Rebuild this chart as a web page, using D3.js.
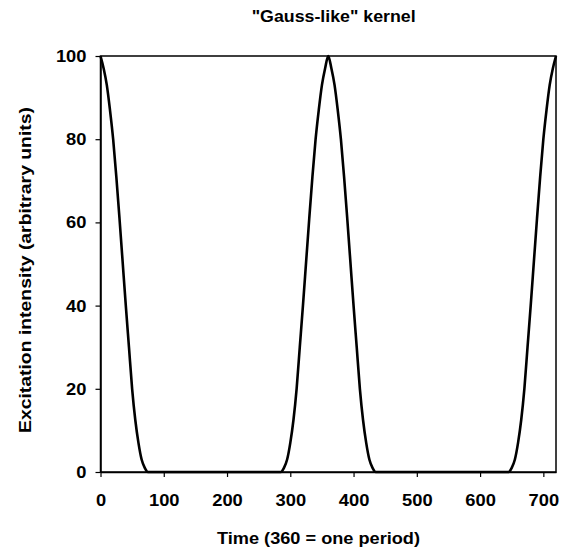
<!DOCTYPE html>
<html>
<head>
<meta charset="utf-8">
<script src="https://cdn.jsdelivr.net/npm/d3@7"></script>
<style>
  html, body { margin: 0; padding: 0; background: #fff; }
  svg { display: block; }
  text { font-family: "Liberation Sans", Arial, Helvetica, sans-serif; font-weight: bold; fill: #000; }
</style>
</head>
<body>
<svg id="chart" width="569" height="552"></svg>
<script>
const title = '"Gauss-like" kernel';
const xTitle = "Time (360 = one period)";
const yTitle = "Excitation intensity (arbitrary units)";
const xTicks = [0, 100, 200, 300, 400, 500, 600, 700];
const yTicks = [0, 20, 40, 60, 80, 100];

const time = [0,5,10,15,20,25,30,35,40,45,50,55,60,65,70,75,
  285,290,295,300,305,310,315,320,325,330,335,340,345,350,355,360,
  365,370,375,380,385,390,395,400,405,410,415,420,425,430,435,
  645,650,655,660,665,670,675,680,685,690,695,700,705,710,715,720];
const intensity = [100,97,93,87,80,71,61,50.5,40,30,20,12.5,7,3,1,0,
  0,1,3,7,12.5,20,30,40,50.5,61,71,80,87,93,97,100,
  97,93,87,80,71,61,50.5,40,30,20,12.5,7,3,1,0,
  0,1,3,7,12.5,20,30,40,50.5,61,71,80,87,93,97,100];

const svg = d3.select("#chart");
const x = d3.scaleLinear().domain([0, 720]).range([100.5, 556]);
const y = d3.scaleLinear().domain([0, 100]).range([472, 56]);

// frame
svg.append("rect")
  .attr("x", x(0)).attr("y", y(100))
  .attr("width", x(720) - x(0)).attr("height", y(0) - y(100))
  .attr("fill", "none").attr("stroke", "#000").attr("stroke-width", 1.5);

// x axis
const xAxis = svg.append("g")
  .attr("transform", `translate(0,${y(0)})`)
  .call(d3.axisBottom(x).tickValues(xTicks).tickSize(5).tickPadding(16).tickSizeOuter(0));
xAxis.select(".domain").attr("stroke-width", 1.5);
xAxis.selectAll(".tick line").attr("stroke-width", 1.2);
xAxis.selectAll(".tick text")
  .style("font-size", "17px").style("font-family", "'Liberation Sans', Arial, sans-serif")
  .style("font-weight", "bold").attr("dy", "0.71em").attr("y", 22)
  .attr("textLength", d => String(d).length * 10.2).attr("lengthAdjust", "spacingAndGlyphs");

// y axis
const yAxis = svg.append("g")
  .attr("transform", `translate(${x(0)},0)`)
  .call(d3.axisLeft(y).tickValues(yTicks).tickSize(5).tickPadding(9).tickSizeOuter(0));
yAxis.select(".domain").attr("stroke-width", 1.5);
yAxis.selectAll(".tick line").attr("stroke-width", 1.2);
yAxis.selectAll(".tick text")
  .style("font-size", "17px").style("font-family", "'Liberation Sans', Arial, sans-serif")
  .style("font-weight", "bold")
  .attr("textLength", d => String(d).length * 10.2).attr("lengthAdjust", "spacingAndGlyphs");

// curve
const pts = time.map((t, i) => [t, intensity[i]]);
svg.append("path")
  .datum(pts)
  .attr("fill", "none").attr("stroke", "#000").attr("stroke-width", 2.6)
  .attr("stroke-linejoin", "round")
  .attr("d", d3.line().x(d => x(d[0])).y(d => y(d[1])).curve(d3.curveMonotoneX));

// titles
svg.append("text")
  .attr("x", 333.7).attr("y", 21.5).attr("text-anchor", "middle")
  .style("font-size", "16.5px")
  .attr("textLength", 164).attr("lengthAdjust", "spacingAndGlyphs")
  .text(title);

svg.append("text")
  .attr("x", 318.5).attr("y", 544).attr("text-anchor", "middle")
  .style("font-size", "17px")
  .attr("textLength", 203).attr("lengthAdjust", "spacingAndGlyphs")
  .text(xTitle);

svg.append("text")
  .attr("transform", "translate(30.5,270) rotate(-90)")
  .attr("text-anchor", "middle")
  .style("font-size", "17px")
  .attr("textLength", 326).attr("lengthAdjust", "spacingAndGlyphs")
  .text(yTitle);
</script>
</body>
</html>
